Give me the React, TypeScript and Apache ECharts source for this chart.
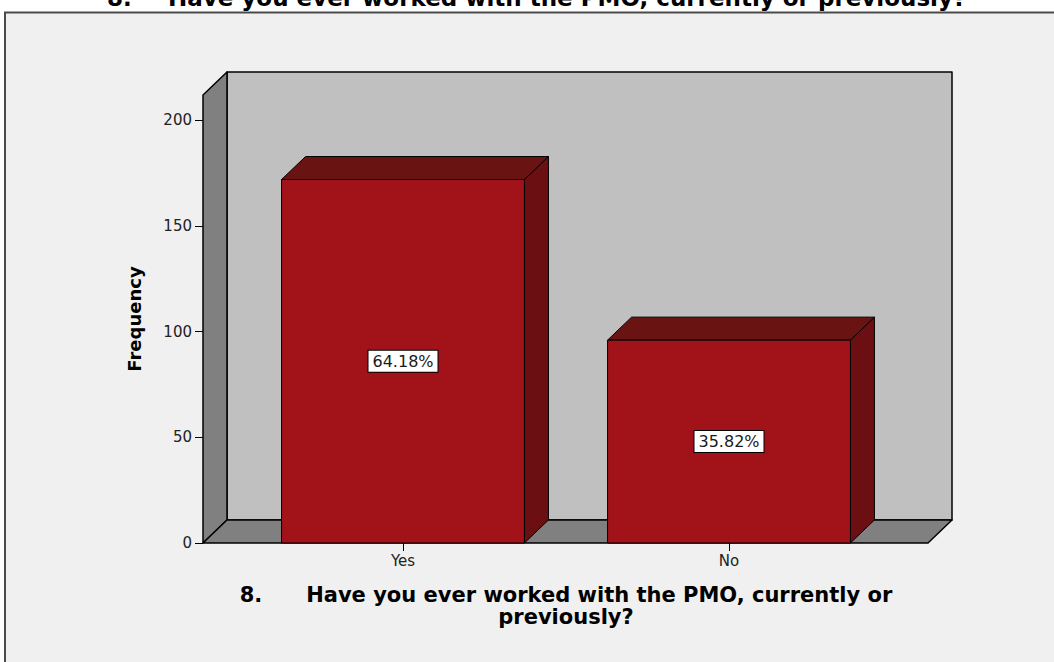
import { useEffect, useRef } from 'react';
import * as echarts from 'echarts';

// Survey answers and their counts
const categories = ['Yes', 'No'];
const frequencies = [172, 96];

// Value-axis ticks and the height of the 3D walls (in frequency units)
const yTicks = [0, 50, 100, 150, 200];
const yAxisMax = 212;

const titleNumber = '8.';
const titleText = 'Have you ever worked with the PMO, currently or previously?';
const xAxisTitle = '8.      Have you ever worked with the PMO, currently or\npreviously?';
const yAxisTitle = 'Frequency';

const total = frequencies.reduce((a, b) => a + b, 0);
const percentLabels = frequencies.map((v) => ((v / total) * 100).toFixed(2) + '%');

// depth offset of the pseudo-3D walls and boxes
const DX = 24;
const DY = 23;
// how far the floor reaches beyond the category bands
const FLOOR_PAD_L = 37;
const FLOOR_PAD_R = 36;

const FONT = '"DejaVu Sans", Verdana, sans-serif';

export default function App() {
  const ref = useRef<HTMLDivElement>(null);

  useEffect(() => {
    if (!ref.current) return;
    const chart = echarts.init(ref.current, undefined, { renderer: 'svg' });

    const option: any = {
      animation: false,
      backgroundColor: '#ffffff',
      graphic: [
        {
          type: 'rect',
          z: -10,
          shape: { x: 5, y: 12.5, width: 1200, height: 800 },
          style: { fill: '#f0f0f0', stroke: '#4a4a4a', lineWidth: 2 },
          silent: true,
        },
        {
          type: 'text',
          x: 107,
          y: -2,
          style: {
            text: titleNumber,
            fontFamily: FONT,
            fontWeight: 'bold',
            fontSize: 23,
            fill: '#000',
            align: 'left',
            verticalAlign: 'middle',
          },
        },
        {
          type: 'text',
          x: 168,
          y: -2,
          style: {
            text: titleText,
            fontFamily: FONT,
            fontWeight: 'bold',
            fontSize: 23,
            fill: '#000',
            align: 'left',
            verticalAlign: 'middle',
          },
        },
      ],
      grid: { left: 240, right: 162, top: 95, bottom: 119, containLabel: false },
      xAxis: {
        type: 'category',
        data: categories,
        axisLine: { show: false },
        axisTick: { show: true, alignWithLabel: true, length: 8, lineStyle: { color: '#000', width: 1 } },
        axisLabel: { fontFamily: FONT, fontSize: 15, color: '#222', margin: 10 },
        splitLine: { show: false },
        name: xAxisTitle,
        nameLocation: 'middle',
        nameGap: 41,
        nameTextStyle: { fontFamily: FONT, fontWeight: 'bold', fontSize: 21, lineHeight: 22, color: '#000' },
      },
      yAxis: {
        type: 'value',
        min: 0,
        max: yAxisMax,
        offset: FLOOR_PAD_L,
        axisLine: { show: false },
        axisTick: { show: true, customValues: yTicks, length: 8, lineStyle: { color: '#000', width: 1 } },
        axisLabel: { customValues: yTicks, fontFamily: FONT, fontSize: 15, color: '#222', margin: 11 },
        splitLine: { show: false },
        name: yAxisTitle,
        nameLocation: 'middle',
        nameRotate: 90,
        nameGap: 60,
        nameTextStyle: { fontFamily: FONT, fontWeight: 'bold', fontSize: 18, color: '#000' },
      },
      series: [
        {
          // back wall, side wall and floor of the 3D frame
          type: 'custom',
          z: 1,
          silent: true,
          data: [[0, 0]],
          encode: { x: 0, y: 1 },
          renderItem: (params: any, api: any) => {
            const cs = params.coordSys;
            const left = cs.x - FLOOR_PAD_L;
            const right = cs.x + cs.width + FLOOR_PAD_R;
            const y0 = api.coord([0, 0])[1];
            const top = api.coord([0, yAxisMax])[1];
            const edge = { stroke: '#000', lineWidth: 1.5, lineJoin: 'round' };
            return {
              type: 'group',
              children: [
                {
                  type: 'polygon',
                  shape: {
                    points: [
                      [left + DX, top - DY],
                      [right + DX, top - DY],
                      [right + DX, y0 - DY],
                      [left + DX, y0 - DY],
                    ],
                  },
                  style: { fill: '#c0c0c0', ...edge },
                },
                {
                  type: 'polygon',
                  shape: {
                    points: [
                      [left, y0],
                      [left, top],
                      [left + DX, top - DY],
                      [left + DX, y0 - DY],
                    ],
                  },
                  style: { fill: '#808080', ...edge },
                },
                {
                  type: 'polygon',
                  shape: {
                    points: [
                      [left, y0],
                      [left + DX, y0 - DY],
                      [right + DX, y0 - DY],
                      [right, y0],
                    ],
                  },
                  style: { fill: '#808080', ...edge },
                },
              ],
            };
          },
        },
        {
          // 3D boxes for each answer, labelled with their share of responses
          type: 'custom',
          z: 2,
          data: categories.map((_, i) => [i, frequencies[i]]),
          encode: { x: 0, y: 1 },
          renderItem: (params: any, api: any) => {
            const idx = api.value(0);
            const v = api.value(1);
            const [cx, cy] = api.coord([idx, v]);
            const base = api.coord([idx, 0])[1];
            const bw = api.size([1, 0])[0] * 0.745;
            const l = cx - bw / 2;
            const r = cx + bw / 2;
            const edge = { stroke: '#000', lineWidth: 1, lineJoin: 'round' };
            return {
              type: 'group',
              children: [
                {
                  type: 'polygon',
                  shape: { points: [[r, cy], [r + DX, cy - DY], [r + DX, base - DY], [r, base]] },
                  style: { fill: '#6c0f13', ...edge },
                },
                {
                  type: 'polygon',
                  shape: { points: [[l, cy], [l + DX, cy - DY], [r + DX, cy - DY], [r, cy]] },
                  style: { fill: '#6a1313', ...edge },
                },
                {
                  type: 'rect',
                  shape: { x: l, y: cy, width: bw, height: base - cy },
                  style: { fill: '#a21319', ...edge },
                },
                {
                  type: 'text',
                  x: cx,
                  y: (cy + base) / 2,
                  style: {
                    text: percentLabels[params.dataIndex],
                    fontFamily: FONT,
                    fontSize: 16,
                    fill: '#1a1a1a',
                    align: 'center',
                    verticalAlign: 'middle',
                    backgroundColor: '#ffffff',
                    borderColor: '#000',
                    borderWidth: 1,
                    padding: [3, 4, 2, 4],
                  },
                },
              ],
            };
          },
        },
      ],
    };

    chart.setOption(option);
    return () => chart.dispose();
  }, []);

  return (
    <div
      ref={ref}
      style={{ position: 'absolute', left: 0, top: 0, width: 1054, height: 662 }}
    />
  );
}
